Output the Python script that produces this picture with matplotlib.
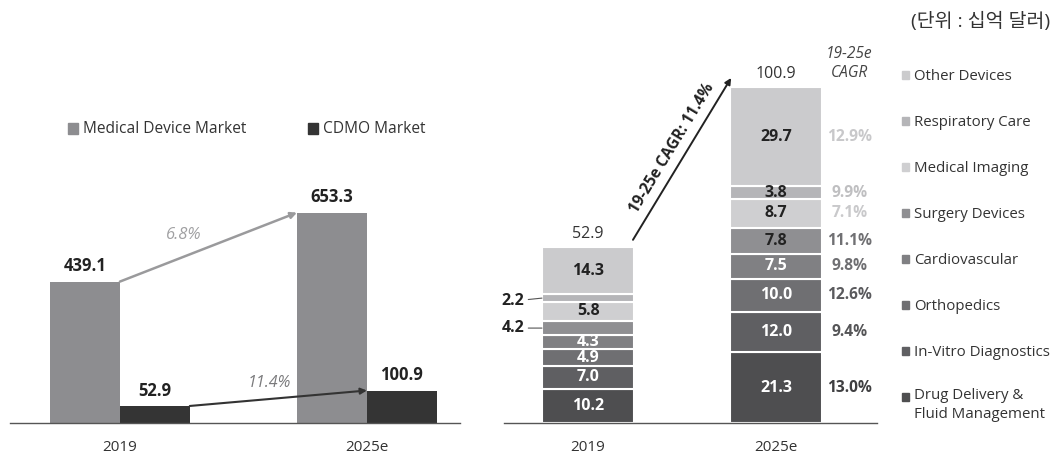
import matplotlib
matplotlib.use("Agg")
import matplotlib.pyplot as plt
import matplotlib.patches as mpatches
import numpy as np

plt.rcParams['font.family'] = ['Open Sans', 'Noto Sans CJK KR', 'DejaVu Sans']

# ---- data ----
years = ['2019', '2025e']
medical_market = [439.1, 653.3]
cdmo_market = [52.9, 100.9]
market_cagr = ['6.8%', '11.4%']

# bottom -> top
segments = ['Drug Delivery &\nFluid Management', 'In-Vitro Diagnostics', 'Orthopedics',
            'Cardiovascular', 'Surgery Devices', 'Medical Imaging',
            'Respiratory Care', 'Other Devices']
seg_2019 = [10.2, 7.0, 4.9, 4.3, 4.2, 5.8, 2.2, 14.3]
seg_2025 = [21.3, 12.0, 10.0, 7.5, 7.8, 8.7, 3.8, 29.7]
seg_cagr = ['13.0%', '9.4%', '12.6%', '9.8%', '11.1%', '7.1%', '9.9%', '12.9%']
totals = [52.9, 100.9]
total_cagr = '19-25e CAGR: 11.4%'

seg_colors = ['#4e4e50', '#5f5f62', '#6f6f72', '#808083', '#8f8f92',
              '#cfcfd1', '#b5b5b8', '#cbcbcd']
seg_text = ['white', 'white', 'white', 'white', '#222222', '#222222', '#222222', '#222222']
cagr_colors = ['#3f3f41', '#555557', '#5a5a5d', '#6f6f72', '#707073',
               '#c9c9cb', '#bfbfc1', '#c8c8ca']

W, H = 1055, 455
fig = plt.figure(figsize=(W / 100, H / 100), dpi=100)


def px_axes(x0, y_top, x1, y_bot):
    return fig.add_axes([x0 / W, (H - y_bot) / H, (x1 - x0) / W, (y_bot - y_top) / H])


def clean(ax):
    for s in ['top', 'right', 'left']:
        ax.spines[s].set_visible(False)
    ax.spines['bottom'].set_color('#555555')
    ax.spines['bottom'].set_linewidth(1.0)
    ax.set_yticks([])
    ax.tick_params(axis='x', length=0, labelsize=11, colors='#333333', pad=12.5)


# ---- left chart ----
ax1 = px_axes(10, 100, 460, 423)
clean(ax1)
x = np.arange(len(years))
bw = 0.283
b1 = ax1.bar(x - bw / 2, medical_market, bw, color='#8d8d90')
b2 = ax1.bar(x + bw / 2, cdmo_market, bw, color='#343434')
ax1.set_xlim(-0.445, 1.377)
ax1.set_ylim(0, 1003)
ax1.set_xticks(x)
ax1.set_xticklabels(years)

for bars in (b1, b2):
    for r in bars:
        ax1.annotate(f'{r.get_height():.1f}', (r.get_x() + r.get_width() / 2, r.get_height()),
                     xytext=(0, 4.5), textcoords='offset points', ha='center', va='bottom',
                     fontsize=12, fontweight='bold', color='#222222')

# growth arrows
ax1.annotate('', xy=(x[1] - bw, medical_market[1]), xytext=(x[0], medical_market[0]),
             arrowprops=dict(arrowstyle='-|>', color='#9a9a9c', lw=1.8, mutation_scale=9,
                             shrinkA=0, shrinkB=0))
ax1.annotate('', xy=(x[1], cdmo_market[1]), xytext=(x[0] + bw, cdmo_market[0]),
             arrowprops=dict(arrowstyle='-|>', color='#333333', lw=1.5, mutation_scale=9,
                             shrinkA=0, shrinkB=0))
ax1.text(0.257, 583, market_cagr[0], ha='center', va='center', fontsize=12,
         style='italic', color='#a0a0a2')
ax1.text(0.607, 125, market_cagr[1], ha='center', va='center', fontsize=11.5,
         style='italic', color='#7a7a7c')

# left legend
for lbl, col, px0 in [('Medical Device Market', '#8d8d90', 68), ('CDMO Market', '#343434', 308)]:
    fig.patches.append(mpatches.Rectangle((px0 / W, (H - 134) / H), 10 / W, 11 / H,
                                          transform=fig.transFigure, color=col))
    fig.text((px0 + 15) / W, (H - 129) / H, lbl, fontsize=11.2, color='#333333',
             ha='left', va='center')

# ---- right chart ----
ax2 = px_axes(504, 40, 877, 423)
clean(ax2)
ax2.set_xlim(-0.447, 1.537)
ax2.set_ylim(0, 115)
ax2.set_xticks(x)
ax2.set_xticklabels(years)
sw = 0.49
for xi, vals in zip(x, [seg_2019, seg_2025]):
    bottom = 0
    for i, v in enumerate(vals):
        ax2.bar(xi, v, sw, bottom=bottom, color=seg_colors[i], edgecolor='white', linewidth=1.5)
        mid = bottom + v / 2
        if xi == 0 and segments[i] in ('Surgery Devices', 'Respiratory Care'):
            # small slices labelled outside
            ty = mid - 0.9 if segments[i] == 'Respiratory Care' else mid
            ax2.annotate(f'{v:.1f}', xy=(xi - sw / 2, mid), xytext=(xi - sw / 2 - 0.095, ty),
                         ha='right', va='center', fontsize=11.5, fontweight='bold',
                         color='#222222',
                         arrowprops=dict(arrowstyle='-', color='#555555', lw=0.8,
                                         shrinkA=1, shrinkB=0))
        else:
            ax2.text(xi, mid, f'{v:.1f}', ha='center', va='center', fontsize=11.5,
                     fontweight='bold', color=seg_text[i])
        if xi == 1:
            ax2.text(1.39, mid, seg_cagr[i], ha='center', va='center', fontsize=11.2,
                     fontweight='bold', color=cagr_colors[i])
        bottom += v
    ax2.annotate(f'{totals[xi]:.1f}', (xi, bottom), xytext=(0, 3.5), textcoords='offset points',
                 ha='center', va='bottom', fontsize=11.5, color='#333333')

ax2.text(1.39, 108, '19-25e\nCAGR', ha='center', va='center', fontsize=11.2,
         style='italic', color='#444444', linespacing=1.25)

ax2.annotate('', xy=(0.761, 103.6), xytext=(0.239, 55.0),
             arrowprops=dict(arrowstyle='-|>', color='#222222', lw=1.4, mutation_scale=9,
                             shrinkA=0, shrinkB=0))
ax2.text(0.447, 82.5, total_cagr, rotation=58.8, rotation_mode='anchor',
         ha='center', va='center', fontsize=11.2, fontweight='bold', color='#222222')

# right legend
for i, (lbl, col) in enumerate(zip(segments[::-1], seg_colors[::-1])):
    yc = 76 + 46 * i
    fig.patches.append(mpatches.Rectangle((902 / W, (H - yc - 3) / H), 7 / W, 8 / H,
                                          transform=fig.transFigure, color=col))
    if '\n' in lbl:
        fig.text(914 / W, (H - yc + 10) / H, lbl, fontsize=10.8, color='#333333',
                 ha='left', va='top', linespacing=1.4)
    else:
        fig.text(914 / W, (H - yc - 1) / H, lbl, fontsize=10.8, color='#333333',
                 ha='left', va='center')

fig.text(1050 / W, (H - 21) / H, '(단위 : 십억 달러)', fontsize=14, color='#333333',
         ha='right', va='center')

fig.savefig('out.png', dpi=100)
